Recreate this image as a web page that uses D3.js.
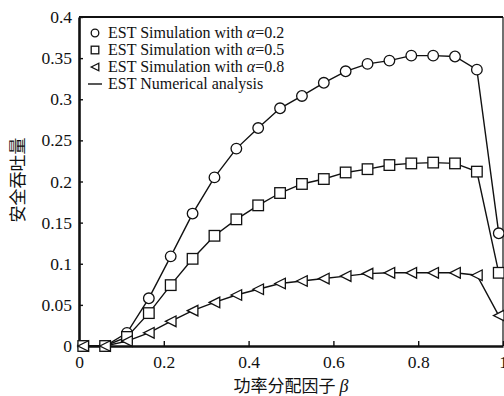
<!DOCTYPE html>
<html><head><meta charset="utf-8">
<script src="https://cdn.jsdelivr.net/npm/d3@7"></script>
<style>html,body{margin:0;padding:0;background:#fff;}svg{display:block;}
.serif{font-family:"Times New Roman","Liberation Serif","DejaVu Serif",serif !important;}
.cjk{font-family:"Noto Sans CJK SC",sans-serif;}
</style>
</head><body>
<script>
const beta = [0.01,0.0616,0.1132,0.1647,0.2163,0.2679,0.3195,0.3711,0.4226,0.4742,0.5258,0.5774,0.6289,0.6805,0.7321,0.7837,0.8353,0.8868,0.9384,0.99];
const alpha02 = [0,0,0.016,0.058,0.109,0.161,0.205,0.240,0.265,0.289,0.304,0.320,0.334,0.343,0.347,0.353,0.353,0.352,0.336,0.137];
const alpha05 = [0,0,0.011,0.040,0.074,0.106,0.134,0.154,0.171,0.186,0.197,0.203,0.211,0.215,0.220,0.222,0.223,0.222,0.212,0.089];
const alpha08 = [0,0,0.006,0.016,0.030,0.043,0.053,0.062,0.069,0.076,0.079,0.082,0.085,0.088,0.089,0.089,0.089,0.089,0.086,0.037];
const xTicks = [0,0.2,0.4,0.6,0.8,1];
const xTickLabels = ["0","0.2","0.4","0.6","0.8","1"];
const yTicks = [0,0.05,0.1,0.15,0.2,0.25,0.3,0.35,0.4];
const yTickLabels = ["0","0.05","0.1","0.15","0.2","0.25","0.3","0.35","0.4"];
const legendLabels = ["EST Simulation with ","EST Simulation with ","EST Simulation with ","EST Numerical analysis"];
const legendAlpha = ["0.2","0.5","0.8",null];
const xLabel = "功率分配因子 ";
const yLabel = "安全吞吐量";

const W = 504, H = 396;
const L = 79, R = 503, T = 17, B = 346;
const svg = d3.select("body").append("svg").attr("width", W).attr("height", H);
svg.append("rect").attr("width", W).attr("height", H).attr("fill", "#fff");

const x = d3.scaleLinear().domain([0,1]).range([L,R]);
const y = d3.scaleLinear().domain([0,0.4]).range([B,T]);

// frame
svg.append("line").attr("x1",L).attr("x2",R).attr("y1",T).attr("y2",T).attr("stroke","#111").attr("stroke-width",2.2);
svg.append("line").attr("x1",R).attr("x2",R).attr("y1",T).attr("y2",B).attr("stroke","#111").attr("stroke-width",1.2);

// axes
const xAxis = d3.axisBottom(x).tickValues(xTicks).tickFormat((d,i)=>xTickLabels[i]).tickSizeInner(-5).tickSizeOuter(0).tickPadding(10);
const gx = svg.append("g").attr("transform",`translate(0,${B})`).call(xAxis).attr("font-family",null).attr("font-size",null);
gx.select(".domain").attr("stroke","#111").attr("stroke-width",2.6);
gx.selectAll(".tick line").attr("stroke","#111").attr("stroke-width",1.4);
gx.selectAll(".tick text").attr("class","serif").style("font-size","17.5px").attr("fill","#111");

const yAxis = d3.axisLeft(y).tickValues(yTicks).tickFormat((d,i)=>yTickLabels[i]).tickSizeInner(-4).tickSizeOuter(0).tickPadding(7);
const gy = svg.append("g").attr("transform",`translate(${L},0)`).call(yAxis).attr("font-family",null).attr("font-size",null);
gy.select(".domain").attr("stroke","#111").attr("stroke-width",2.6);
gy.selectAll(".tick line").attr("stroke","#111").attr("stroke-width",1.4);
gy.selectAll(".tick text").attr("class","serif").style("font-size","17.5px").attr("fill","#111");

// series
const series = [
  {vals: alpha02, shape: "circle"},
  {vals: alpha05, shape: "square"},
  {vals: alpha08, shape: "triangle"}
];
const line = d3.line().x(d=>x(d[0])).y(d=>y(d[1]));
function marker(g, shape, cx, cy, s) {
  if (shape === "circle") {
    g.append("circle").attr("cx",cx).attr("cy",cy).attr("r",s)
      .attr("fill","#fff").attr("stroke","#111").attr("stroke-width",1.3);
  } else if (shape === "square") {
    g.append("rect").attr("x",cx-s).attr("y",cy-s).attr("width",2*s).attr("height",2*s)
      .attr("fill","#fff").attr("stroke","#111").attr("stroke-width",1.3);
  } else {
    g.append("path").attr("d",`M${cx-s},${cy} L${cx+s},${cy-s} L${cx+s},${cy+s} Z`)
      .attr("fill","#fff").attr("stroke","#111").attr("stroke-width",1.3);
  }
}
series.forEach(s => {
  const pts = beta.map((b,i)=>[b, s.vals[i]]);
  svg.append("path").attr("d", line(pts)).attr("fill","none").attr("stroke","#111").attr("stroke-width",1.4);
});
series.forEach(s => {
  const g = svg.append("g");
  beta.forEach((b,i)=> marker(g, s.shape, x(b), y(s.vals[i]), 5.3));
});

// legend
const lg = svg.append("g");
const rowY = [33, 50, 67, 84];
const shapes = ["circle","square","triangle","line"];
shapes.forEach((sh,i) => {
  const cy = rowY[i];
  if (sh === "line") {
    lg.append("line").attr("x1",88).attr("x2",102).attr("y1",cy).attr("y2",cy).attr("stroke","#111").attr("stroke-width",1.4);
  } else {
    const gm = lg.append("g");
    marker(gm, sh, 95, cy, 3.8);
  }
  const t = lg.append("text").attr("class","serif").attr("x",108).attr("y",cy+5).style("font-size","16px").attr("fill","#111");
  t.append("tspan").text(legendLabels[i]);
  if (legendAlpha[i] !== null) {
    t.append("tspan").attr("font-style","italic").text("α");
    t.append("tspan").text("=" + legendAlpha[i]);
  }
});

// axis labels
const xl = svg.append("text").attr("class","cjk").attr("x",291).attr("y",392).attr("text-anchor","middle")
  .style("font-size","17px").attr("fill","#111");
xl.append("tspan").text(xLabel);
xl.append("tspan").attr("class","serif").attr("font-style","italic").style("font-size","18px").text("β");

svg.append("text").attr("class","cjk").attr("transform","translate(24,180) rotate(-90)").attr("text-anchor","middle")
  .style("font-size","17px").attr("fill","#111").text(yLabel);
</script>
</body></html>
